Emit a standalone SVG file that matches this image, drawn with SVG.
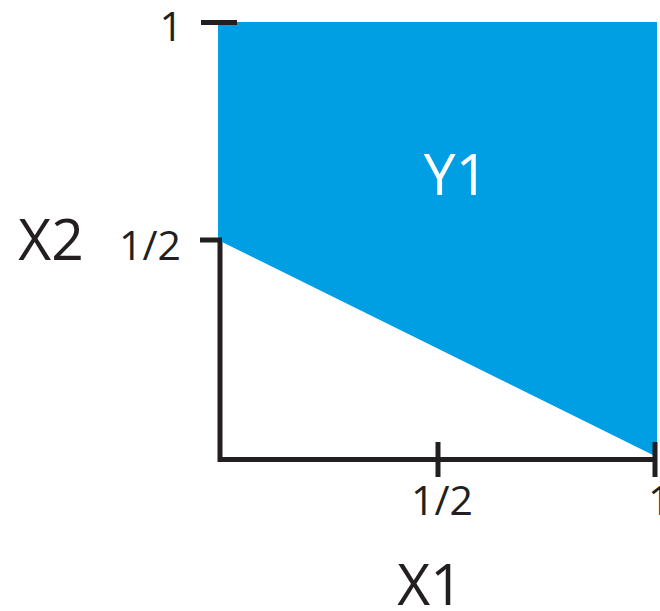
<svg xmlns="http://www.w3.org/2000/svg" width="660" height="611" viewBox="0 0 660 611">
<style>
.t{font-family:"Open Sans","Liberation Sans",sans-serif;fill:#231f20}
.s{font-size:41px}
.b{font-size:57px}
.ax{stroke:#231f20;stroke-width:5;fill:none}
</style>
<rect width="660" height="611" fill="#fff"/>
<g id="axes">
<path class="ax" d="M220,240 V459.5 H657"/>
</g>
<g id="region-Y1">
<polygon points="218,22 657,22 657,457 218,240" fill="#009fe3"/>
<text class="b" x="456" y="195" text-anchor="middle" style="font-family:'Open Sans','Liberation Sans',sans-serif;fill:#fff">Y1</text>
</g>
<g id="ticks">
<path class="ax" d="M201,22.5 H237 M200,240 H222 M438,442 V477 M655,442 V477"/>
</g>
<g id="labels">
<text class="t s" x="183" y="41" text-anchor="end">1</text>
<text class="t s" x="181" y="260" text-anchor="end">1/2</text>
<text class="t b" x="51" y="260" text-anchor="middle">X2</text>
<text class="t s" x="442" y="515" text-anchor="middle">1/2</text>
<text class="t s" x="648" y="515">1</text>
<text class="t b" x="430" y="605" text-anchor="middle">X1</text>
</g>
</svg>
